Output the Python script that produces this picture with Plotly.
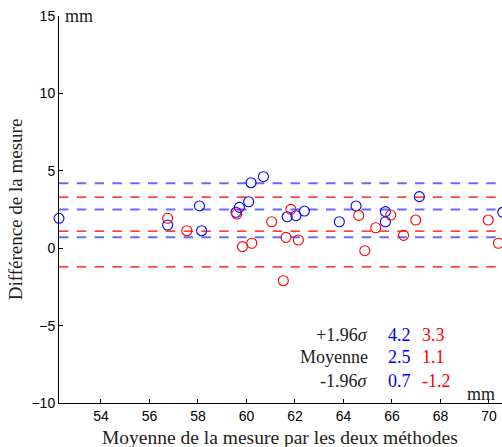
import plotly.graph_objects as go

# Blue series (method A): mean of the two measures vs difference
blue_x = [52.27, 56.75, 58.06, 58.15, 59.57, 59.71, 60.09, 60.19, 60.70,
          61.68, 62.04, 62.39, 63.83, 64.52, 65.73, 65.73, 67.13, 70.57]
blue_y = [1.93, 1.50, 2.73, 1.13, 2.32, 2.64, 3.00, 4.23, 4.62,
          2.03, 2.10, 2.40, 1.71, 2.73, 2.36, 1.71, 3.33, 2.32]

# Red series (method B)
red_x = [56.75, 57.54, 59.60, 59.83, 60.22, 61.04, 61.83, 61.63, 62.14,
         61.52, 64.63, 64.88, 65.33, 65.95, 66.48, 66.98, 69.97, 70.39]
red_y = [1.93, 1.13, 2.21, 0.10, 0.32, 1.71, 2.51, 0.70, 0.53,
         -2.10, 2.12, -0.16, 1.32, 2.14, 0.83, 1.82, 1.82, 0.32]

# Limits: +1.96 sigma, mean, -1.96 sigma
limit_labels = ["+1.96<i>σ</i>", "Moyenne", "-1.96<i>σ</i>"]
blue_limits = [4.2, 2.5, 0.7]
red_limits = [3.3, 1.1, -1.2]

x_title = "Moyenne de la mesure par les deux méthodes"
y_title = "Différence de la mesure"

# the figure is wider than the window; the window shows x up to ~70.54
x_range = [52.27, 71.28]
y_range = [-10, 15]
x_ticks = [54, 56, 58, 60, 62, 64, 66, 68, 70]
y_ticks = [-10, -5, 0, 5, 10, 15]

BLUE = "#0000ff"
RED = "#ff0000"
SERIF = "Liberation Serif, Times New Roman, serif"
SANS = "Liberation Sans, Arial, sans-serif"
TXT = "#222222"

FIG_W = 520
FIG_H = 447
M_L, M_T, M_B = 59, 16, 44
PLOT_W = FIG_W - M_L
PLOT_H = FIG_H - M_T - M_B


def px_x(p):
    """paper x for a window pixel column"""
    return (p - M_L) / PLOT_W


def px_y(p):
    """paper y for a window pixel row"""
    return (FIG_H - M_B - p) / PLOT_H


fig = go.Figure()

for v in blue_limits:
    fig.add_trace(go.Scatter(x=x_range, y=[v, v], mode="lines",
                             line=dict(color="rgb(105,105,255)", width=2, dash="9.5px,8.3px"),
                             hoverinfo="skip", showlegend=False))
for v in red_limits:
    fig.add_trace(go.Scatter(x=x_range, y=[v, v], mode="lines",
                             line=dict(color=RED, width=1.2, dash="9.5px,8.3px"),
                             hoverinfo="skip", showlegend=False))

fig.add_trace(go.Scatter(x=blue_x, y=blue_y, mode="markers", cliponaxis=False,
                         marker=dict(symbol="circle-open", size=10, color=BLUE,
                                     line=dict(width=1.1, color=BLUE)),
                         showlegend=False))
fig.add_trace(go.Scatter(x=red_x, y=red_y, mode="markers", cliponaxis=False,
                         marker=dict(symbol="circle-open", size=10, color=RED,
                                     line=dict(width=1.1, color=RED)),
                         showlegend=False))

row_px = [335, 356.5, 380.5]
for lab, bv, rv, yy in zip(limit_labels, blue_limits, red_limits, row_px):
    fig.add_annotation(x=px_x(370), y=px_y(yy), xref="paper", yref="paper", text=lab,
                       showarrow=False, xanchor="right", yanchor="middle",
                       font=dict(family=SERIF, size=18, color=TXT))
    fig.add_annotation(x=px_x(386), y=px_y(yy), xref="paper", yref="paper", text=f"{bv:.1f}",
                       showarrow=False, xanchor="left", yanchor="middle",
                       font=dict(family=SERIF, size=18, color=BLUE))
    fig.add_annotation(x=px_x(420), y=px_y(yy), xref="paper", yref="paper", text=f"{rv:.1f}",
                       showarrow=False, xanchor="left", yanchor="middle",
                       font=dict(family=SERIF, size=18, color=RED))

fig.add_annotation(x=px_x(63), y=1.0, xref="paper", yref="paper", text="mm",
                   showarrow=False, xanchor="left", yanchor="middle",
                   font=dict(family=SERIF, size=18, color=TXT))
fig.add_annotation(x=px_x(497), y=px_y(394), xref="paper", yref="paper", text="mm",
                   showarrow=False, xanchor="right", yanchor="middle",
                   font=dict(family=SERIF, size=18, color=TXT))

# x-axis title centred in the visible window (not the wider figure)
fig.add_annotation(x=px_x(280), y=px_y(437), xref="paper", yref="paper", text=x_title,
                   showarrow=False, xanchor="center", yanchor="middle",
                   font=dict(family=SERIF, size=19.5, color=TXT))

fig.update_layout(
    width=FIG_W, height=FIG_H,
    margin=dict(l=M_L, r=0, t=M_T, b=M_B),
    paper_bgcolor="white", plot_bgcolor="white",
    xaxis=dict(range=x_range, tickvals=x_ticks, ticks="inside", ticklen=4,
               tickcolor="black", showline=True, linecolor="black", linewidth=1,
               showgrid=False, zeroline=False, ticklabeloverflow="allow",
               tickfont=dict(family=SANS, size=14, color="black")),
    yaxis=dict(range=y_range, tickvals=y_ticks, ticks="inside", ticklen=4,
               tickcolor="black", showline=True, linecolor="black", linewidth=1,
               showgrid=False, zeroline=False, ticklabeloverflow="allow",
               tickfont=dict(family=SANS, size=14, color="black"),
               title=dict(text=y_title,
                          font=dict(family=SERIF, size=19, color=TXT), standoff=3)),
)

# remove the browser's default 8px body margin so the figure fills the window
fig.write_html("out.html", config={"displayModeBar": False},
               post_script="document.body.style.margin='0';document.body.style.overflow='hidden';")
